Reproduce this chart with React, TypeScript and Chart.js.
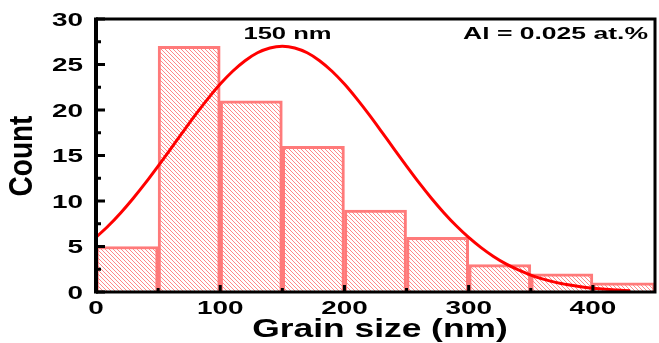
import React, { useEffect, useRef } from "react";
import { Chart, registerables } from "chart.js";

Chart.register(...registerables);

const binCenters = [25, 75, 125, 175, 225, 275, 325, 375, 425];
const counts = [5, 27, 21, 16, 9, 6, 3, 2, 1];

const fitX = [0, 10, 20, 30, 40, 50, 60, 70, 80, 90, 100, 110, 120, 130, 140, 150, 160, 170, 180, 190, 200, 210, 220, 230, 240, 250, 260, 270, 280, 290, 300, 310, 320, 330, 340, 350, 360, 370, 380, 390, 400, 410, 420, 430];
const fitY = [6.0, 7.28, 8.72, 10.31, 12.02, 13.84, 15.71, 17.6, 19.46, 21.22, 22.85, 24.26, 25.42, 26.29, 26.82, 27.0, 26.82, 26.29, 25.42, 24.26, 22.85, 21.22, 19.46, 17.6, 15.71, 13.84, 12.02, 10.31, 8.72, 7.28, 6.0, 4.88, 3.91, 3.09, 2.42, 1.86, 1.42, 1.06, 0.79, 0.57, 0.41, 0.29, 0.21, 0.14];

const xTicks = [0, 100, 200, 300, 400];
const xMinorTicks = [50, 150, 250, 350];
const yTicks = [0, 5, 10, 15, 20, 25, 30];
const yMinorTicks = [2.5, 7.5, 12.5, 17.5, 22.5, 27.5];

const xTitle = "Grain size (nm)";
const yTitle = "Count";
const peakLabel = "150 nm";
const sampleLabel = "Al = 0.025 at.%";

function makeHatch(): CanvasPattern | string {
  const c = document.createElement("canvas");
  c.width = 4;
  c.height = 4;
  const g = c.getContext("2d");
  if (!g) return "#ffc0c0";
  g.fillStyle = "#ffffff";
  g.fillRect(0, 0, 4, 4);
  g.strokeStyle = "#ff8888";
  g.lineWidth = 1;
  g.beginPath();
  g.moveTo(-1, -1);
  g.lineTo(5, 5);
  g.moveTo(-1, 3);
  g.lineTo(1, 5);
  g.moveTo(3, -1);
  g.lineTo(5, 1);
  g.stroke();
  const p = g.createPattern(c, "repeat");
  return p || "#ffc0c0";
}

function stretchedText(
  ctx: CanvasRenderingContext2D,
  text: string,
  x: number,
  y: number,
  size: number,
  sx: number,
  align: CanvasTextAlign
) {
  ctx.save();
  ctx.translate(x, y);
  ctx.scale(sx, 1);
  ctx.font = `bold ${size}px "Liberation Sans", Arial, sans-serif`;
  ctx.textAlign = align;
  ctx.textBaseline = "alphabetic";
  ctx.fillStyle = "#000";
  ctx.fillText(text, 0, 0);
  ctx.restore();
}

const framePlugin = {
  id: "framePlugin",
  afterDatasetsDraw(chart: any) {
    const ctx: CanvasRenderingContext2D = chart.ctx;
    const a = chart.chartArea;
    const xs = chart.scales.x;
    const ys = chart.scales.y;
    ctx.save();
    ctx.fillStyle = "#000";
    xTicks.forEach((v) => {
      const px = xs.getPixelForValue(v);
      ctx.fillRect(px - 1.5, a.bottom - 7, 3, 7);
    });
    xMinorTicks.forEach((v) => {
      const px = xs.getPixelForValue(v);
      ctx.fillRect(px - 1.5, a.bottom - 4, 3, 4);
    });
    yTicks.forEach((v) => {
      const py = ys.getPixelForValue(v);
      ctx.fillRect(a.left, py - 1.5, 9, 3);
    });
    yMinorTicks.forEach((v) => {
      const py = ys.getPixelForValue(v);
      ctx.fillRect(a.left, py - 1.5, 5, 3);
    });
    ctx.strokeStyle = "#000";
    ctx.lineWidth = 3;
    ctx.beginPath();
    ctx.moveTo(a.left, a.top);
    ctx.lineTo(a.right, a.top);
    ctx.lineTo(a.right, a.bottom);
    ctx.lineTo(a.left, a.bottom);
    ctx.stroke();
    ctx.fillRect(a.left - 2, a.top - 1.5, 4, a.bottom - a.top + 3);
    ctx.restore();
  },
  afterDraw(chart: any) {
    const ctx: CanvasRenderingContext2D = chart.ctx;
    const a = chart.chartArea;
    const xs = chart.scales.x;
    const ys = chart.scales.y;
    xTicks.forEach((v) => {
      stretchedText(ctx, String(v), xs.getPixelForValue(v), a.bottom + 22, 18, 1.55, "center");
    });
    yTicks.forEach((v) => {
      stretchedText(ctx, String(v), a.left - 13, ys.getPixelForValue(v) + 6.5, 18, 1.55, "right");
    });
    stretchedText(ctx, xTitle, 380, 336.5, 26, 1.36, "center");
    stretchedText(ctx, peakLabel, 287.5, 38.5, 16, 1.6, "center");
    stretchedText(ctx, sampleLabel, 648, 39, 17, 1.56, "right");
    ctx.save();
    ctx.translate(32, (a.top + a.bottom) / 2 + 0.5);
    ctx.rotate(-Math.PI / 2);
    ctx.scale(1, 1.2);
    ctx.font = `bold 28px "Liberation Sans", Arial, sans-serif`;
    ctx.textAlign = "center";
    ctx.textBaseline = "alphabetic";
    ctx.fillStyle = "#000";
    ctx.fillText(yTitle, 0, 0);
    ctx.restore();
  },
};

export default function App() {
  const ref = useRef<HTMLCanvasElement | null>(null);
  useEffect(() => {
    document.body.style.margin = "0";
    const canvas = ref.current;
    if (!canvas) return;
    const hatch = makeHatch();
    const chart = new Chart(canvas, {
      type: "bar",
      data: {
        datasets: [
          {
            type: "line",
            label: "fit",
            data: fitX.map((x, i) => ({ x, y: fitY[i] })),
            borderColor: "#ff0000",
            borderWidth: 3,
            pointRadius: 0,
            tension: 0.3,
            fill: false,
            order: 0,
          } as any,
          {
            type: "bar",
            label: "count",
            data: binCenters.map((x, i) => ({ x, y: counts[i] })),
            backgroundColor: hatch as any,
            borderColor: "rgb(255,122,122)",
            borderWidth: 3,
            barPercentage: 1,
            categoryPercentage: 1,
            order: 1,
          } as any,
        ],
      },
      options: {
        responsive: false,
        animation: false,
        devicePixelRatio: 1,
        layout: { padding: { left: 96, right: 4, top: 19, bottom: 51 } },
        plugins: { legend: { display: false }, tooltip: { enabled: false } },
        scales: {
          x: {
            type: "linear",
            min: 0,
            max: 450,
            offset: false,
            display: false,
            grid: { offset: false },
          },
          y: {
            type: "linear",
            min: 0,
            max: 30,
            display: false,
          },
        },
      },
      plugins: [framePlugin],
    });
    return () => chart.destroy();
  }, []);
  return (
    <div style={{ width: 659, height: 343 }}>
      <canvas ref={ref} width={659} height={343} style={{ display: "block" }} />
    </div>
  );
}
